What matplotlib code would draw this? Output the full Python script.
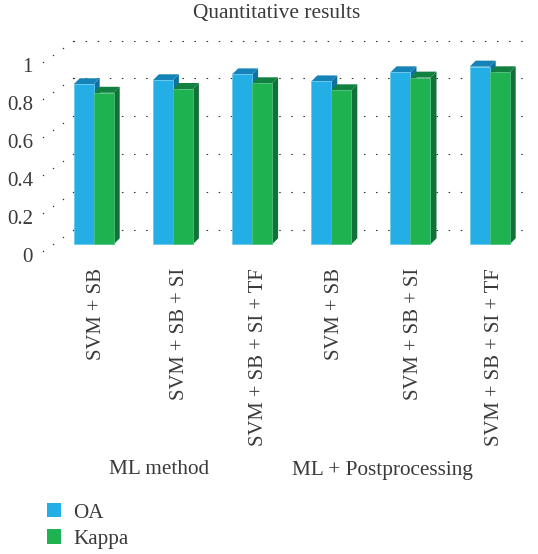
import matplotlib
matplotlib.use("Agg")
import matplotlib.pyplot as plt
from matplotlib.patches import Patch, Polygon
from matplotlib.transforms import ScaledTranslation

categories = ["SVM + SB", "SVM + SB + SI", "SVM + SB + SI + TF",
              "SVM + SB", "SVM + SB + SI", "SVM + SB + SI + TF"]
oa = [0.845, 0.866, 0.897, 0.86, 0.908, 0.938]
kappa = [0.80, 0.82, 0.85, 0.813, 0.88, 0.908]
y_ticks = [0, 0.2, 0.4, 0.6, 0.8, 1]
y_labels = ["0", "0.2", "0.4", "0.6", "0.8", "1"]
groups = ["ML method", "ML + Postprocessing"]
title = "Quantitative results"

W, H, DPI = 538, 554, 100
PX = 72 / DPI
TXT = "#3a3a3a"
plt.rcParams["font.family"] = ["Liberation Serif", "DejaVu Serif"]

fig = plt.figure(figsize=(W / DPI, H / DPI), dpi=DPI, facecolor="white")
L, R, Y0, Y1 = 43, 529, 251, 61.6
ax = fig.add_axes([L / W, 1 - Y0 / H, (R - L) / W, (Y0 - Y1) / H])
UNIT = 79.2
ax.set_xlim((L - 93.7) / UNIT, (R - 93.7) / UNIT)
ax.set_ylim(0, 1)
for s in ax.spines.values():
    s.set_visible(False)


def shift(dx, dy):
    return ax.transData + ScaledTranslation(dx / DPI, dy / DPI, fig.dpi_scale_trans)


# back wall and floor/side dots
for v in y_ticks:
    ax.plot([ax.get_xlim()[0] + 29.5 / UNIT, ax.get_xlim()[1]], [v, v],
            color="#333333", lw=1.1 * PX, ls=(0, (1.4, 9.6)),
            transform=shift(0, 21), clip_on=False, zorder=1)
    for dx, dy in [(0, 0), (10, 7), (20, 14), (29.5, 21)]:
        ax.plot([ax.get_xlim()[0]], [v], marker="o", ms=1.3 * PX * 1.1, color="#333333",
                mew=0, transform=shift(dx, dy), clip_on=False, zorder=1)

BW = 20 / UNIT
DX, DY = 6, 6
DXD = DX / UNIT
DYD = DY / (Y0 - Y1)
plane = shift(0, 6.7)
xs = list(range(len(categories)))
series = [
    (oa, -BW / 2, "#23aee5", "#1583b8", "#12709f", "#6cc9ec", "OA"),
    (kappa, BW / 2, "#1fb251", "#118040", "#127038", "#4fc07e", "Kappa"),
]
for vals, off, front, top, side, edge, name in series:
    for i, v in zip(xs, vals):
        x0, x1 = i + off - BW / 2, i + off + BW / 2
        ax.add_patch(Polygon([(x1, 0), (x1 + DXD, DYD), (x1 + DXD, v + DYD), (x1, v)],
                             fc=side, ec="none", transform=plane, clip_on=False, zorder=3))
        ax.add_patch(Polygon([(x0, v), (x0 + DXD, v + DYD), (x1 + DXD, v + DYD), (x1, v)],
                             fc=top, ec="none", transform=plane, clip_on=False, zorder=3))
    ax.bar([i + off for i in xs], vals, width=BW, color=front, edgecolor=edge,
           linewidth=0.8 * PX, transform=plane, zorder=4, clip_on=False)

ax.set_xticks(xs)
ax.set_xticklabels(categories, rotation=90, fontsize=20.6 * PX, color=TXT, va="top", ha="center")
ax.set_yticks(y_ticks)
ax.set_yticklabels(y_labels, fontsize=21 * PX, color=TXT)
ax.tick_params(axis="x", length=0, pad=17 * PX)
ax.tick_params(axis="y", length=0, pad=10 * PX)

for lab, nudge in zip(ax.get_xticklabels(), [3, 7, 6.5, 3, 3.5, 5]):
    lab.set_transform(lab.get_transform()
                      + ScaledTranslation(nudge / DPI, 0, fig.dpi_scale_trans))
for lab in ax.get_yticklabels():
    lab.set_transform(lab.get_transform()
                      + ScaledTranslation(0, -3.5 / DPI, fig.dpi_scale_trans))

ax.set_title(title, x=(277 - L) / (R - L), y=(Y0 - 13.5) / (Y0 - Y1), va="center",
             fontsize=21.4 * PX, color=TXT, pad=0)
fig.text(159 / W, 1 - 470 / H, groups[0], ha="center", va="center", fontsize=21.3 * PX, color=TXT)
fig.text(382 / W, 1 - 470 / H, groups[1], ha="center", va="center", fontsize=21.3 * PX, color=TXT)

handles = [Patch(facecolor="#23aee5", label="OA"), Patch(facecolor="#1fb251", label="Kappa")]
fig.legend(handles=handles, loc="lower left", bbox_to_anchor=(47 / W, 1 - 549 / H),
           bbox_transform=fig.transFigure, frameon=False, fontsize=21.2 * PX,
           handlelength=0.66, handleheight=0.66, handletextpad=0.58, labelspacing=0.32,
           borderpad=0, borderaxespad=0, labelcolor=TXT)

fig.savefig("out.png", dpi=DPI)
